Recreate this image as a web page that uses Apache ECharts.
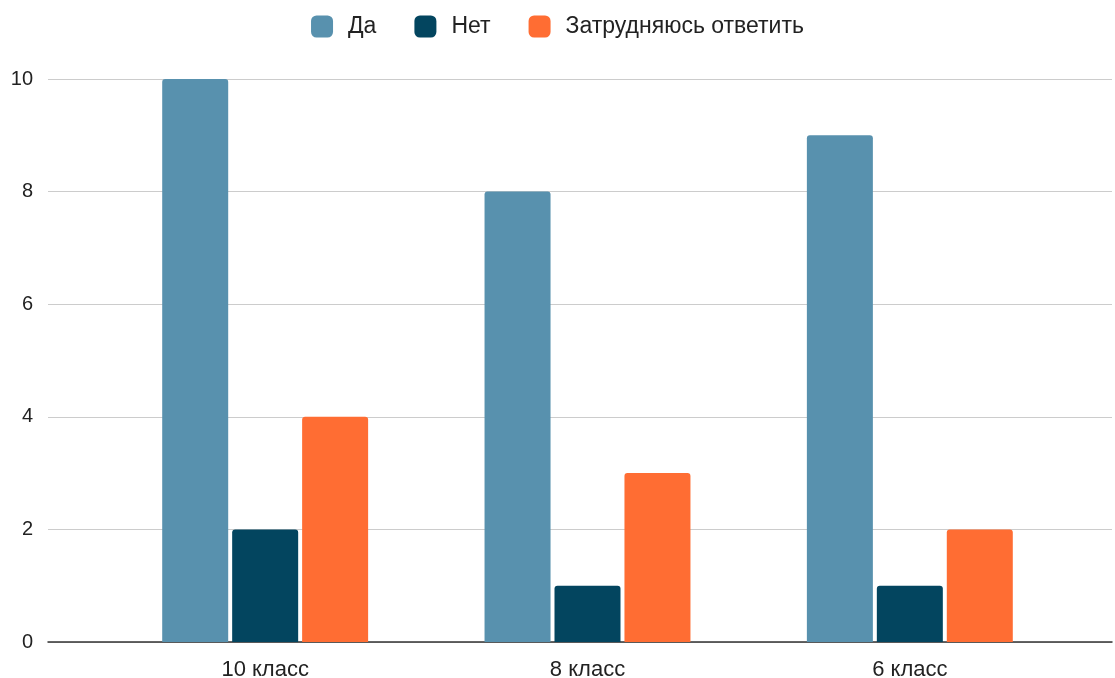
<!DOCTYPE html>
<html><head><meta charset="utf-8">
<script src="https://cdn.jsdelivr.net/npm/echarts@6/dist/echarts.min.js"></script>
<style>html,body{margin:0;padding:0;background:#fff}#c{width:1115px;height:678px}</style>
</head><body><div id="c"></div>
<script>
const categories = ['10 класс', '8 класс', '6 класс'];
const seriesNames = ['Да', 'Нет', 'Затрудняюсь ответить'];
const da = [10, 8, 9];
const net = [2, 1, 1];
const zatr = [4, 3, 2];
const yTicks = [0, 2, 4, 6, 8, 10];

const colors = ['#5891ae', '#03455f', '#ff6d33'];
const font = 'Arial, "Liberation Sans", sans-serif';
const chart = echarts.init(document.getElementById('c'));
const values = [da, net, zatr];
chart.setOption({
  animation: false,
  color: colors,
  textStyle: { fontFamily: font },
  legend: {
    top: 10, left: 'center',
    itemWidth: 22, itemHeight: 22, itemGap: 38,
    icon: 'roundRect',
    textStyle: { fontSize: 23, color: '#222', fontFamily: font, padding: [0, 0, 0, 10] },
    data: seriesNames
  },
  grid: [
    { left: 48, right: 3, top: 79, bottom: 36, outerBoundsMode: 'none', containLabel: false },
    { left: 104, right: 44, top: 79, bottom: 36, outerBoundsMode: 'none', containLabel: false }
  ],
  xAxis: [
    { type: 'category', gridIndex: 0, data: categories, axisLine: { lineStyle: { color: '#333', width: 1.5 } }, axisTick: { show: false }, axisLabel: { show: false } },
    { type: 'category', gridIndex: 1, data: categories, axisLine: { show: false }, axisTick: { show: false },
      axisLabel: { fontSize: 22, color: '#222', margin: 17, fontFamily: font } }
  ],
  yAxis: [
    { type: 'value', gridIndex: 0, min: 0, max: 10, interval: 2,
      axisLabel: { fontSize: 20, color: '#222', margin: 15, fontFamily: font,
        formatter: v => yTicks.includes(v) ? String(v) : '' },
      splitLine: { lineStyle: { color: '#cccccc', width: 1.2 } }, axisLine: { show: false }, axisTick: { show: false } },
    { type: 'value', gridIndex: 1, min: 0, max: 10, interval: 2, show: false, splitLine: { show: false } }
  ],
  series: seriesNames.map((n, i) => ({
    name: n, type: 'bar', xAxisIndex: 1, yAxisIndex: 1,
    data: values[i], barWidth: 66, barGap: '6%',
    itemStyle: { color: colors[i], borderRadius: [3, 3, 0, 0] }
  }))
});
</script></body></html>
